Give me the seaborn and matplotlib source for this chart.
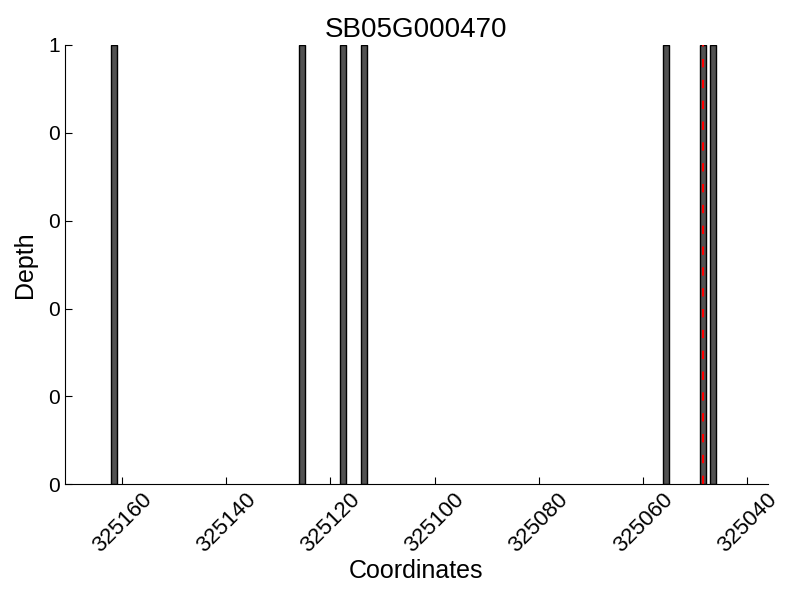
import numpy as np
import pandas as pd
import seaborn as sns
import matplotlib
matplotlib.use("Agg")
import matplotlib.pyplot as plt
from matplotlib.ticker import FormatStrFormatter

# Covered positions and their depth
positions = [325161, 325125, 325117, 325113, 325055, 325048, 325046]
depths = [1, 1, 1, 1, 1, 1, 1]
marker_pos = 325048.5
gene_name = "SB05G000470"

sns.set_style("ticks")
plt.rcParams['font.family'] = ['Liberation Sans', 'DejaVu Sans']
plt.rcParams['xtick.direction'] = 'in'
plt.rcParams['ytick.direction'] = 'in'
for key in ['text.color', 'axes.labelcolor', 'xtick.color', 'ytick.color', 'axes.edgecolor']:
    plt.rcParams[key] = 'black'

# bar centres sit half a base to the right of each start
df = pd.DataFrame({"pos": [p + 0.5 for p in positions], "depth": depths})

fig, ax = plt.subplots(figsize=(8, 6), dpi=100)
fig.subplots_adjust(left=0.081, right=0.96, top=0.925, bottom=0.193)

sns.barplot(data=df, x="pos", y="depth", native_scale=True, width=0.58,
            color="0.32", saturation=1, edgecolor="black", linewidth=1, ax=ax)
ax.axvline(marker_pos, color="red", linestyle=(0, (4, 6)), linewidth=1.5)

ax.set_xlim(max(positions) + 10, min(positions) - 10)
ax.set_ylim(0, 1)
ax.set_yticks(np.linspace(0, 1, 6))
ax.yaxis.set_major_formatter(FormatStrFormatter('%d'))
ax.set_xticks(range(325160, 325039, -20))
ax.set_xticklabels([str(t) for t in range(325160, 325039, -20)], rotation=45)
ax.tick_params(length=5, width=0.8)
ax.tick_params(axis='x', labelsize=16)
ax.tick_params(axis='y', labelsize=15)

ax.set_title(gene_name, fontsize=20)
ax.set_xlabel("Coordinates", fontsize=18, labelpad=2)
ax.set_ylabel("Depth", fontsize=18, labelpad=8)
sns.despine(ax=ax)

plt.savefig("out.png", dpi=100)
